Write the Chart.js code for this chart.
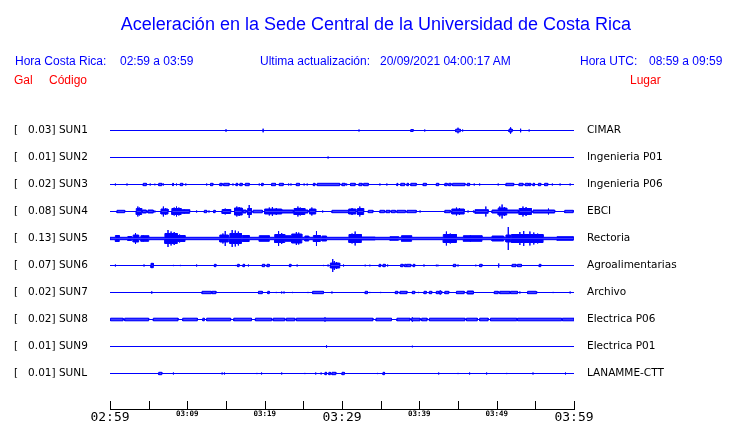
<!DOCTYPE html>
<html>
<head>
<meta charset="utf-8">
<script src="https://cdn.jsdelivr.net/npm/chart.js@4.4.1/dist/chart.umd.min.js"></script>
<style>
  body { margin: 0; background: #fff; }
  #wrap { position: relative; width: 740px; height: 423px; overflow: hidden; }
  .t { position: absolute; white-space: pre; font-family: "Liberation Sans", Arial, sans-serif; }
  .blue { color: #0000ff; font-size: 12px; line-height: 12px; }
  .red { color: #ff0000; font-size: 12px; line-height: 12px; }
</style>
</head>
<body>
<div id="wrap">
  <canvas id="chart" width="740" height="423"></canvas>
  <div class="t" style="left:0;width:752px;text-align:center;top:14.8px;font-size:18px;line-height:18px;color:#0000ff">Aceleración en la Sede Central de la Universidad de Costa Rica</div>
  <div class="t blue" style="left:15px;top:54.8px">Hora Costa Rica:</div>
  <div class="t blue" style="left:120px;top:54.8px">02:59 a 03:59</div>
  <div class="t blue" style="left:260px;top:54.8px">Ultima actualización:</div>
  <div class="t blue" style="left:380px;top:54.8px">20/09/2021 04:00:17 AM</div>
  <div class="t blue" style="left:580px;top:54.8px">Hora UTC:</div>
  <div class="t blue" style="left:649px;top:54.8px">08:59 a 09:59</div>
  <div class="t red" style="left:14px;top:74.2px">Gal</div>
  <div class="t red" style="left:49px;top:74.2px">Código</div>
  <div class="t red" style="left:630px;top:74.2px">Lugar</div>
</div>
<script>
// Acelerogramas UCR, 02:59 - 03:59 (minutos desde el inicio)

const stationCodes = ['SUN1','SUN2','SUN3','SUN4','SUN5','SUN6','SUN7','SUN8','SUN9','SUNL'];
const galValues = ['0.03','0.01','0.02','0.08','0.13','0.07','0.02','0.02','0.01','0.01'];
const placeNames = ['CIMAR','Ingenieria P01','Ingenieria P06','EBCI','Rectoria','Agroalimentarias','Archivo','Electrica P06','Electrica P01','LANAMME-CTT'];

const tickMinutes = [0,5,10,15,20,25,30,35,40,45,50,55,60];
const tickLabels = ['02:59','','03:09','','03:19','','03:29','','03:39','','03:49','','03:59'];
const majorLabels = ['02:59','03:29','03:59'];

// events: [inicio min, fin min, amplitud]; inicio == fin -> pico
const sun1Events = [[15.0,15.0,1.2],[19.8,19.8,1.8],[32.2,32.2,1.0],[38.9,39.2,1.0],[40.7,40.7,1.0],[44.7,45.3,1.3],[45.0,45.0,2.8],[45.6,45.6,1.0],[51.6,52.0,1.5],[51.8,51.8,3.2],[53.1,53.1,1.8],[54.2,54.2,1.0]];
const sun2Events = [[28.2,28.2,1.0]];
const sun3Events = [[0.7,0.7,1.0],[2.2,2.2,1.0],[4.3,4.7,1.2],[5.2,5.2,1.0],[5.8,5.8,0.8],[6.3,6.7,1.2],[6.9,6.9,1.0],[8.1,8.2,1.2],[8.6,8.6,1.0],[9.1,9.4,1.2],[9.8,9.8,1.0],[12.5,12.5,1.0],[13.0,13.3,1.2],[14.2,14.5,1.2],[14.7,15.4,1.2],[15.9,15.9,1.0],[16.3,16.5,1.2],[16.8,17.1,1.2],[17.5,18.0,1.2],[19.3,19.3,1.0],[19.6,19.8,1.2],[20.9,21.4,1.2],[21.9,22.4,1.2],[23.1,23.1,1.0],[23.4,23.4,1.0],[24.1,24.5,1.2],[25.1,25.1,1.0],[25.5,25.5,1.0],[26.3,26.5,1.2],[26.8,29.7,1.2],[30.0,30.4,1.2],[30.6,30.6,1.0],[31.1,31.7,1.2],[32.2,32.6,1.2],[32.8,33.4,1.2],[34.9,34.9,1.0],[35.8,35.8,1.0],[37.1,37.2,1.2],[37.6,38.1,1.2],[38.4,38.6,1.2],[38.9,39.6,1.2],[40.5,40.9,1.2],[42.2,42.5,1.2],[43.3,43.6,1.2],[43.8,44.1,1.2],[44.3,45.9,1.2],[46.2,46.5,1.2],[47.1,47.1,1.0],[47.8,47.8,1.0],[50.2,50.2,1.0],[51.2,52.2,1.2],[52.9,53.4,1.2],[53.7,54.1,1.2],[54.2,54.4,1.2],[54.7,54.9,1.2],[55.4,55.7,1.2],[56.2,56.6,1.2],[57.2,57.2,1.0],[58.2,58.2,1.0],[59.5,59.5,1.0]];
const sun4Events = [[0.9,1.9,1.2],[3.4,4.1,3.0],[3.6,3.6,5.0],[3.8,3.8,4.0],[4.2,4.7,1.5],[4.9,5.6,1.5],[5.8,5.8,1.0],[6.6,7.5,2.5],[6.9,6.9,5.0],[7.2,7.2,3.5],[8.0,9.2,3.0],[8.3,8.3,4.0],[8.6,8.6,5.0],[8.9,8.9,4.0],[9.2,10.3,1.8],[9.6,9.6,2.5],[11.2,11.2,1.0],[12.2,12.5,1.2],[12.8,12.8,1.0],[13.4,13.6,1.2],[14.5,15.6,2.0],[14.9,14.9,3.0],[16.1,17.1,3.5],[16.4,16.4,5.0],[16.7,16.7,4.5],[17.2,17.6,1.5],[17.8,18.3,3.0],[18.0,18.0,6.5],[18.5,19.7,1.3],[20.0,22.2,2.5],[20.6,20.6,4.0],[21.0,21.0,4.5],[21.5,21.5,3.5],[22.2,23.7,1.5],[23.8,25.2,3.0],[24.3,24.3,5.0],[24.6,24.6,4.0],[25.2,25.6,1.5],[25.8,26.6,2.5],[26.1,26.1,4.0],[27.5,27.5,1.0],[28.7,30.8,1.2],[30.9,31.8,2.5],[31.3,31.3,3.5],[32.0,32.8,3.0],[32.3,32.3,5.0],[33.4,34.0,1.2],[34.9,35.5,1.2],[35.7,36.2,1.2],[36.4,36.9,1.2],[37.1,38.2,1.2],[38.4,39.6,1.2],[40.1,40.1,1.0],[43.3,44.0,1.2],[44.2,45.8,2.5],[44.8,44.8,4.0],[45.2,45.2,3.5],[46.3,46.3,1.0],[47.0,47.0,1.0],[47.2,48.9,1.8],[48.6,48.6,5.0],[49.4,50.2,1.5],[50.2,51.3,3.5],[50.4,50.4,5.0],[50.7,50.7,7.0],[51.0,51.0,4.5],[51.3,52.8,1.5],[52.9,54.5,3.0],[53.4,53.4,5.0],[53.8,53.8,4.5],[54.7,57.5,1.5],[56.7,56.7,3.0],[58.8,59.9,1.2]];
const sun5Events = [[0,60,1.2],[0.7,1.2,3.0],[2.3,2.8,2.0],[3.0,3.7,3.5],[3.3,3.3,5.5],[4.0,5.0,2.8],[4.3,4.3,3.5],[7.1,8.7,5.0],[7.5,7.5,8.5],[7.9,7.9,7.0],[8.3,8.3,6.5],[8.7,9.7,3.0],[9.0,9.0,4.0],[14.2,15.3,3.5],[14.6,14.6,5.0],[14.9,14.9,7.5],[15.5,17.0,5.0],[15.8,15.8,8.5],[16.2,16.2,8.0],[16.6,16.6,7.0],[17.1,18.0,3.0],[19.3,20.6,2.8],[21.3,22.6,4.0],[21.8,21.8,7.5],[22.2,22.2,5.5],[22.6,23.5,2.8],[23.5,24.8,4.5],[24.1,24.1,6.5],[24.4,24.4,6.0],[25.2,25.7,2.5],[26.3,27.2,3.0],[26.7,26.7,7.5],[27.4,28.0,2.5],[30.9,32.5,4.0],[31.3,31.3,5.0],[31.7,31.7,7.0],[32.5,34.3,1.5],[36.2,37.3,1.8],[37.7,39.0,2.8],[43.1,44.8,4.0],[43.5,43.5,7.0],[44.0,44.0,5.0],[45.7,48.1,2.8],[46.6,46.6,3.5],[49.4,50.9,2.5],[51.2,51.8,3.5],[51.5,51.5,11.5],[51.9,56.0,4.0],[53.0,53.0,6.5],[53.5,53.5,7.5],[54.3,54.3,7.0],[54.8,54.8,6.0],[55.3,55.3,5.0],[57.8,59.9,1.8]];
const sun6Events = [[0.7,0.7,1.0],[4.4,4.4,1.0],[5.3,5.6,2.2],[8.2,8.2,0.6],[9.1,9.1,0.6],[11.2,11.2,1.0],[13.5,13.7,1.2],[16.3,16.3,0.6],[16.5,16.7,1.2],[17.2,17.4,1.2],[17.9,17.9,1.0],[19.7,20.0,1.2],[20.3,20.6,1.2],[23.2,23.4,1.2],[24.2,24.2,1.0],[27.6,27.6,0.6],[28.2,28.2,1.0],[28.5,29.7,2.5],[28.8,28.8,6.5],[29.0,29.0,4.5],[29.3,29.3,3.5],[30.2,30.2,1.0],[33.0,33.0,0.8],[33.6,33.6,0.8],[34.8,35.0,1.2],[35.3,35.6,1.2],[35.9,35.9,1.0],[37.6,37.9,1.2],[38.1,38.3,1.2],[38.4,38.9,1.2],[39.2,39.4,1.2],[40.6,40.6,1.0],[42.2,42.2,0.8],[42.4,42.4,0.8],[44.4,44.7,1.2],[45.0,45.0,1.0],[47.3,47.3,0.8],[47.8,48.1,1.2],[50.2,50.3,2.0],[52.0,52.5,1.2],[52.7,53.2,1.2],[55.5,55.7,1.2]];
const sun7Events = [[5.4,5.4,1.2],[11.9,13.1,1.2],[13.2,13.7,1.2],[19.2,19.7,1.2],[20.4,20.6,1.2],[21.5,21.5,0.6],[22.2,22.2,1.0],[22.5,22.5,1.0],[23.6,23.6,0.6],[25.6,25.6,0.6],[26.2,27.6,1.2],[28.7,28.7,1.0],[33.0,33.3,1.2],[33.6,33.6,0.6],[35.0,35.0,0.6],[36.9,37.2,1.2],[37.5,38.4,1.2],[39.1,39.4,1.2],[39.9,39.9,0.6],[40.6,40.9,1.2],[41.3,41.6,1.2],[42.2,42.5,1.2],[42.6,42.9,1.2],[42.7,42.7,2.2],[43.3,43.8,1.2],[44.8,45.8,1.2],[46.2,47.0,1.5],[49.7,50.2,1.2],[50.4,51.7,1.2],[51.8,52.7,1.2],[53.0,53.0,1.0],[54.0,55.1,1.2],[55.2,55.2,1.0],[57.3,57.3,0.6],[59.5,59.5,1.0]];
const sun8Events = [[0.1,1.7,1.3],[1.9,5.0,1.3],[5.6,8.8,1.3],[9.4,11.3,1.3],[12.0,12.2,1.3],[12.5,15.6,1.3],[16.0,18.3,1.3],[18.8,20.9,1.3],[21.1,22.6,1.3],[22.8,23.9,1.3],[24.1,34.0,1.3],[27.8,27.8,2.2],[34.4,36.4,1.3],[37.1,38.8,1.3],[39.0,40.1,1.3],[39.1,39.1,2.2],[40.3,41.0,1.3],[41.3,45.9,1.3],[46.1,47.5,1.3],[47.8,48.9,1.3],[49.2,52.6,1.3],[52.7,58.4,1.3],[58.5,60,1.3]];
const sun9Events = [[28.0,28.0,1.2],[39.1,39.1,0.8]];
const sunlEvents = [[6.3,6.7,1.2],[8.2,8.2,1.0],[14.5,14.5,1.0],[14.8,14.8,1.0],[19.0,19.0,0.6],[19.6,19.6,1.0],[22.2,22.2,1.0],[25.2,25.2,0.6],[26.6,26.6,1.0],[27.3,27.3,1.0],[27.8,28.0,1.2],[28.3,28.5,1.2],[28.7,29.2,1.2],[30.0,30.3,1.2],[34.6,34.6,0.6],[35.3,35.5,1.2],[42.5,42.5,1.0],[45.0,45.0,0.6],[46.5,46.5,1.0],[48.7,48.7,1.0],[51.3,51.3,0.6],[54.7,54.7,1.0],[58.9,58.9,1.0]];

const traces = [sun1Events, sun2Events, sun3Events, sun4Events, sun5Events, sun6Events, sun7Events, sun8Events, sun9Events, sunlEvents];

const TRACE_GAP = 27;
const BLUE = '#0000ff';

// Step envelope of a trace from its events
function envelope(events) {
    const cuts = [...new Set([0, 60, ...events.flatMap(e => [e[0], e[1]])])].sort((a, b) => a - b);
    const level = (a, b) => Math.max(0, ...events.filter(e => e[0] < e[1] && e[0] <= a && e[1] >= b).map(e => e[2]));
    const spikeAt = t => Math.max(0, ...events.filter(e => e[0] === t && e[1] === t).map(e => e[2]));
    const pts = [];
    cuts.forEach((t, i) => {
        const before = i > 0 ? level(cuts[i - 1], t) : 0;
        const after = i < cuts.length - 1 ? level(t, cuts[i + 1]) : 0;
        const spike = spikeAt(t);
        pts.push([t, before]);
        if (spike > Math.max(before, after)) pts.push([t, spike]);
        pts.push([t, after]);
    });
    return pts;
}

const offsets = stationCodes.map((_, i) => (stationCodes.length - 1 - i) * TRACE_GAP);

const datasets = [];
traces.forEach((events, i) => {
    const off = offsets[i];
    const env = envelope(events);
    [1, -1].forEach(sign => {
        datasets.push({
            data: env.map(([t, a]) => ({ x: t, y: off + sign * a })),
            borderColor: BLUE,
            backgroundColor: BLUE,
            borderWidth: 1,
            pointRadius: 0,
            tension: 0,
            fill: { value: off }
        });
    });
});

// upward tick marks on the time axis
const innerTicks = {
    id: 'innerTicks',
    afterDraw(chart) {
        const sx = chart.scales.x;
        const ctx = chart.ctx;
        ctx.save();
        ctx.strokeStyle = '#000';
        ctx.lineWidth = 1;
        ctx.beginPath();
        sx.ticks.forEach((t, i) => {
            const px = Math.round(sx.getPixelForTick(i)) + 0.5;
            ctx.moveTo(px, sx.top);
            ctx.lineTo(px, sx.top - 8);
        });
        ctx.stroke();
        ctx.restore();
    }
};

// tiny lineHeight keeps the y axes from reserving label padding
const labelFont = { family: 'DejaVu Sans', size: 10.5, lineHeight: 0.1 };

new Chart(document.getElementById('chart').getContext('2d'), {
    type: 'line',
    data: { datasets },
    options: {
        responsive: false,
        animation: false,
        layout: { padding: { top: 103.5, left: 14, right: 0, bottom: 0 } },
        plugins: { legend: { display: false }, tooltip: { enabled: false } },
        scales: {
            x: {
                type: 'linear', min: 0, max: 60,
                afterBuildTicks: s => { s.ticks = tickMinutes.map(v => ({ value: v })); },
                afterFit: s => { s.height = 14; },
                grid: { display: true, drawOnChartArea: false, drawTicks: false },
                border: { display: true, color: '#000', width: 1 },
                ticks: {
                    autoSkip: false, maxRotation: 0, padding: 1, color: '#000',
                    callback: (v, i) => tickLabels[i],
                    font: ctx => majorLabels.includes(tickLabels[ctx.index])
                        ? { family: 'DejaVu Sans Mono', size: 13 }
                        : { family: 'DejaVu Sans Mono', size: 7.5, weight: 'bold' }
                }
            },
            y: {
                type: 'linear', position: 'left', min: -35.5, max: 270,
                afterBuildTicks: s => { s.ticks = offsets.map(v => ({ value: v })); },
                afterFit: s => { s.width = 96; },
                grid: { display: false, drawTicks: false },
                border: { display: false },
                ticks: {
                    autoSkip: false, crossAlign: 'far', padding: 0, color: '#000', font: labelFont,
                    callback: (v, i) => `[   ${galValues[i]}] ${stationCodes[i]}`
                }
            },
            y2: {
                type: 'linear', position: 'right', min: -35.5, max: 270,
                afterBuildTicks: s => { s.ticks = offsets.map(v => ({ value: v })); },
                afterFit: s => { s.width = 166; },
                grid: { display: false, drawTicks: false },
                border: { display: false },
                ticks: {
                    autoSkip: false, crossAlign: 'near', padding: 13, color: '#000', font: labelFont,
                    callback: (v, i) => placeNames[i]
                }
            }
        }
    },
    plugins: [innerTicks]
});
</script>
</body>
</html>
